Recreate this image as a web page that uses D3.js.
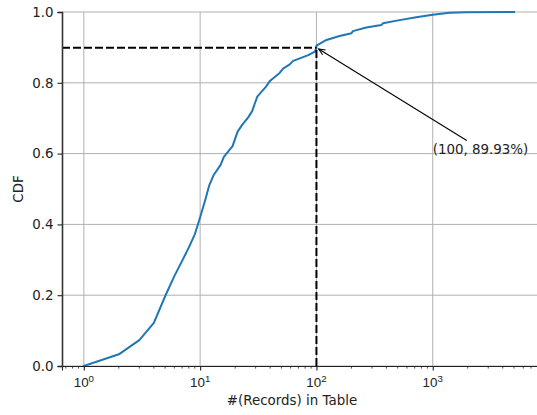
<!DOCTYPE html>
<html>
<head>
<meta charset="utf-8">
<script src="https://cdn.jsdelivr.net/npm/d3@7"></script>
<style>
  html, body { margin: 0; padding: 0; background: #fff; }
  svg { display: block; font-family: "DejaVu Sans", sans-serif; }
</style>
</head>
<body>
<svg id="chart" width="537" height="415"></svg>
<script>
// Record counts per table (x) and the cumulative share of tables (y)
const recordCounts = [1, 2, 3, 4, 5, 6, 7, 8, 9, 10, 11, 12, 13, 15, 16, 19, 21, 23, 26, 28,
  31, 37, 40, 48, 52, 59, 63, 72, 85, 97, 100, 100, 122, 158, 200, 206, 268, 361, 373,
  518, 721, 1000, 1394, 1941, 5000];
const cdfValues = [0, 0.033, 0.073, 0.122, 0.197, 0.254, 0.297, 0.335, 0.372, 0.42, 0.466,
  0.511, 0.538, 0.568, 0.591, 0.621, 0.662, 0.681, 0.703, 0.72, 0.761, 0.79, 0.806, 0.827,
  0.841, 0.852, 0.862, 0.869, 0.878, 0.888, 0.8993, 0.905, 0.921, 0.932, 0.94, 0.946, 0.956,
  0.963, 0.968, 0.977, 0.985, 0.992, 0.998, 0.9995, 1.0];

// Tick values
const xMajorTicks = [1, 10, 100, 1000];
const yTicks = [0, 0.2, 0.4, 0.6, 0.8, 1.0];
const yTickLabels = ["0.0", "0.2", "0.4", "0.6", "0.8", "1.0"];

// Highlighted point and its label
const markX = 100;
const markY = 0.8993;
const markLabel = "(100, 89.93%)";
const labelAt = [1000, 0.6];

const xLabel = "#(Records) in Table";
const yLabel = "CDF";

const svg = d3.select("#chart");
const plotLeft = 62, plotTop = 12, plotBottom = 366, plotRight = 538;

const x = d3.scaleLog()
  .domain([Math.pow(10, -0.1877), Math.pow(10, 3.905)])
  .range([plotLeft, plotRight]);
const y = d3.scaleLinear().domain([0, 1]).range([plotBottom, plotTop]);

const fs = 13.4;

// grid
const grid = svg.append("g");
grid.selectAll("line.gx").data(xMajorTicks).join("line")
  .attr("class", "gx")
  .attr("x1", d => x(d)).attr("x2", d => x(d))
  .attr("y1", plotTop).attr("y2", plotBottom)
  .attr("stroke", "#b0b0b0").attr("stroke-width", 1);
grid.selectAll("line.gy").data(yTicks).join("line")
  .attr("class", "gy")
  .attr("x1", plotLeft).attr("x2", plotRight)
  .attr("y1", d => y(d)).attr("y2", d => y(d))
  .attr("stroke", "#b0b0b0").attr("stroke-width", 1);

// CDF curve
const line = d3.line().x((d, i) => x(recordCounts[i])).y(d => y(d));
svg.append("path")
  .datum(cdfValues)
  .attr("d", line)
  .attr("fill", "none")
  .attr("stroke", "#1f77b4")
  .attr("stroke-width", 2)
  .attr("stroke-linejoin", "round")
  .attr("stroke-linecap", "square");

// reference lines to the highlighted point
svg.append("line")
  .attr("x1", plotLeft).attr("x2", x(markX))
  .attr("y1", y(markY)).attr("y2", y(markY))
  .attr("stroke", "#000").attr("stroke-width", 2).attr("stroke-dasharray", "8,3");
svg.append("line")
  .attr("x1", x(markX)).attr("x2", x(markX))
  .attr("y1", plotBottom).attr("y2", y(markY))
  .attr("stroke", "#000").attr("stroke-width", 2).attr("stroke-dasharray", "8,3");

// axes
const xAxis = d3.axisBottom(x)
  .tickValues(xMajorTicks)
  .tickSize(4.5)
  .tickFormat("");
const gx = svg.append("g").attr("transform", `translate(0,${plotBottom})`).call(xAxis);
gx.select(".domain").attr("stroke", "#222").attr("stroke-width", 1.1);
gx.selectAll(".tick line").attr("stroke", "#222").attr("stroke-width", 1.1);

// minor ticks on the log axis
const minor = [];
for (let e = -1; e <= 3; e++) {
  for (let m = 2; m <= 9; m++) {
    const v = m * Math.pow(10, e);
    if (v >= x.domain()[0] && v <= x.domain()[1]) minor.push(v);
  }
}
gx.selectAll("line.minor").data(minor).join("line")
  .attr("class", "minor")
  .attr("x1", d => x(d)).attr("x2", d => x(d))
  .attr("y1", 0).attr("y2", 2.6)
  .attr("stroke", "#222").attr("stroke-width", 0.8);

// x tick labels as 10 with superscript exponent
gx.selectAll("text.lbl").data(xMajorTicks).join("text")
  .attr("class", "lbl")
  .attr("x", d => x(d))
  .attr("y", 21)
  .attr("text-anchor", "middle")
  .attr("font-size", fs)
  .attr("fill", "#222")
  .each(function(d) {
    const t = d3.select(this);
    t.append("tspan").text("10");
    t.append("tspan").attr("dy", -5.5).attr("font-size", fs * 0.72).text(String(Math.round(Math.log10(d))));
  });

const yAxis = d3.axisLeft(y)
  .tickValues(yTicks)
  .tickSize(4.5)
  .tickPadding(4)
  .tickFormat((d, i) => yTickLabels[i]);
const gy = svg.append("g").attr("transform", `translate(${plotLeft},0)`).call(yAxis);
gy.select(".domain").attr("stroke", "#333").attr("stroke-width", 1.6);
gy.selectAll(".tick line").attr("stroke", "#222").attr("stroke-width", 1.1);
gy.selectAll(".tick text").attr("font-size", fs).attr("fill", "#222")
  .attr("font-family", "DejaVu Sans, sans-serif");

// axis titles
svg.append("text")
  .attr("x", 292).attr("y", 405)
  .attr("text-anchor", "middle")
  .attr("font-size", fs).attr("fill", "#222")
  .text(xLabel);
svg.append("text")
  .attr("transform", `translate(23,${(plotTop + plotBottom) / 2}) rotate(-90)`)
  .attr("text-anchor", "middle")
  .attr("font-size", fs).attr("fill", "#222")
  .text(yLabel);

// annotation text and arrow
const label = svg.append("text")
  .attr("x", x(labelAt[0]))
  .attr("y", y(labelAt[1]))
  .attr("font-size", fs).attr("fill", "#222")
  .text(markLabel);
const bb = label.node().getBBox();
const cx = bb.x + bb.width / 2, cy = bb.y + bb.height / 2;
const px = x(markX), py = y(markY);
const dx = px - cx, dy = py - cy;
const len = Math.hypot(dx, dy);
const ux = dx / len, uy = dy / len;
// leave the text box, then keep a small gap
const tExit = Math.min(Math.abs((bb.height / 2) / uy), Math.abs((bb.width / 2) / ux)) + 2;
const sx = cx + ux * tExit, sy = cy + uy * tExit;
const ex = px - ux * 2.6, ey = py - uy * 2.6;
svg.append("line")
  .attr("x1", sx).attr("y1", sy).attr("x2", ex).attr("y2", ey)
  .attr("stroke", "#000").attr("stroke-width", 1.1);
// open arrow head
const ang = Math.atan2(uy, ux);
const head = 7, spread = 0.42;
const h1 = [ex - head * Math.cos(ang - spread), ey - head * Math.sin(ang - spread)];
const h2 = [ex - head * Math.cos(ang + spread), ey - head * Math.sin(ang + spread)];
svg.append("path")
  .attr("d", `M${h1[0]},${h1[1]}L${ex},${ey}L${h2[0]},${h2[1]}`)
  .attr("fill", "none").attr("stroke", "#000").attr("stroke-width", 1.1);
</script>
</body>
</html>
